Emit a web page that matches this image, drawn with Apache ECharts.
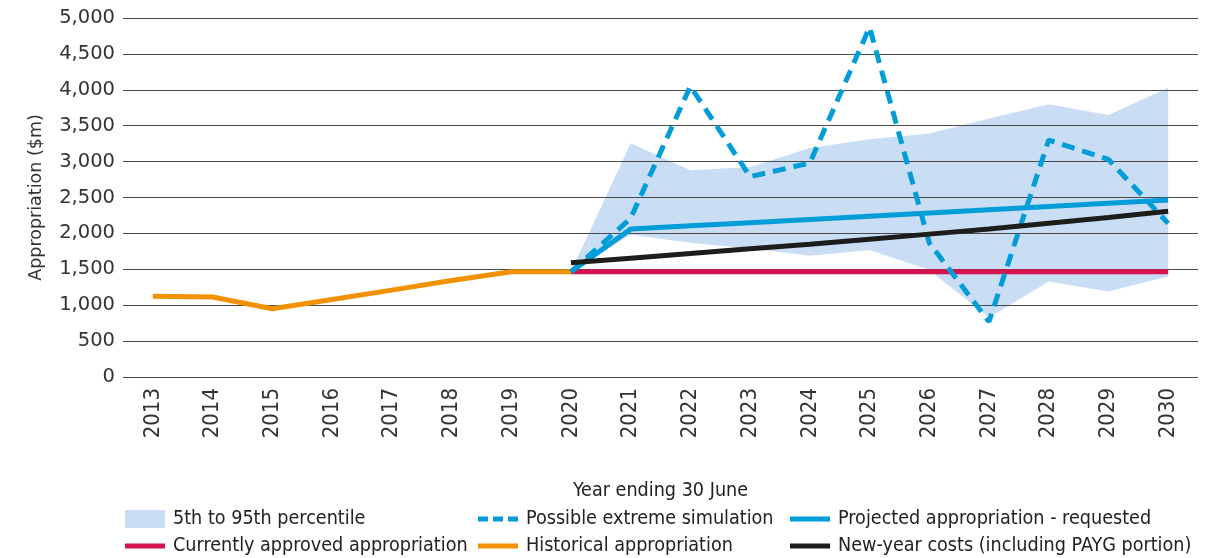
<!DOCTYPE html>
<html>
<head>
<meta charset="utf-8">
<script src="https://cdn.jsdelivr.net/npm/echarts@6/dist/echarts.min.js"></script>
<style>
html,body{margin:0;padding:0;background:#fff;}
#chart{width:1221px;height:558px;}
</style>
</head>
<body>
<div id="chart"></div>
<script>
const years = ['2013','2014','2015','2016','2017','2018','2019','2020','2021','2022','2023','2024','2025','2026','2027','2028','2029','2030'];
const historical = [1125,1115,950,1080,1210,1345,1465,1465,null,null,null,null,null,null,null,null,null,null];
const approved   = [null,null,null,null,null,null,null,1465,1465,1465,1465,1465,1465,1465,1465,1465,1465,1465];
const projected  = [null,null,null,null,null,null,null,1465,2060,2105,2150,2195,2240,2285,2330,2375,2420,2465];
const newYear    = [null,null,null,null,null,null,null,1590,1655,1720,1785,1850,1920,1990,2060,2140,2220,2310];
const extreme    = [null,null,null,null,null,null,null,1465,2210,4050,2790,2980,4870,1870,770,3300,3030,2140];
const bandLow    = [null,null,null,null,null,null,null,1465,1980,1870,1790,1690,1770,1490,830,1330,1190,1400];
const bandHigh   = [null,null,null,null,null,null,null,1465,3255,2880,2925,3190,3310,3390,3600,3800,3650,4030];

const bandDiff = bandHigh.map((v,i)=> v==null ? null : v - bandLow[i]);

const narrow = "'Liberation Sans Narrow','DejaVu Sans Condensed',sans-serif";
const chart = echarts.init(document.getElementById('chart'), null, {renderer:'canvas'});

const lineIcon = 'path://M0,0L40,0L40,5L0,5Z';
const dashIcon = 'path://M0,0h10v5h-10zM15,0h10v5h-10zM30,0h10v5h-10z';

function leg(left, top, name, icon){
  return {
    orient:'horizontal', left:left, top:top, padding:0, itemWidth:40, itemHeight:18,
    textStyle:{fontFamily:narrow, fontSize:19.6, color:'#222', padding:[0,0,0,3]},
    itemStyle:{borderWidth:0}, selectedMode:false,
    data:[{name:name, icon:icon}]
  };
}

chart.setOption({
  animation:false,
  grid:{left:123, right:23, top:18, bottom:181, containLabel:false},
  legend:[
    leg(125, 509, '5th to 95th percentile', 'rect'),
    leg(125, 536, 'Currently approved appropriation', lineIcon),
    leg(478, 509, 'Possible extreme simulation', dashIcon),
    leg(478, 536, 'Historical appropriation', lineIcon),
    leg(790, 509, 'Projected appropriation - requested', lineIcon),
    leg(790, 536, 'New-year costs (including PAYG portion)', lineIcon)
  ],
  xAxis:{
    type:'category', data:years, boundaryGap:true,
    axisLine:{show:false}, axisTick:{show:false},
    axisLabel:{rotate:90, margin:11, fontFamily:narrow, fontSize:22, color:'#333'},
    name:'Year ending 30 June', nameLocation:'middle', nameGap:104,
    nameTextStyle:{fontFamily:narrow, fontSize:19.6, color:'#222'}
  },
  yAxis:{
    type:'value', min:0, max:5000, interval:500, z:1.5,
    axisLine:{show:false}, axisTick:{show:false},
    axisLabel:{margin:8, fontFamily:'DejaVu Sans', fontSize:19.5, color:'#333',
      formatter:v=>v.toLocaleString('en-US')},
    splitLine:{lineStyle:{color:'#4a4a4a', width:1.2}},
    name:'Appropriation ($m)', nameLocation:'middle', nameGap:78,
    nameTextStyle:{fontFamily:'DejaVu Sans', fontSize:17.5, color:'#333'}
  },
  series:[
    {name:'bandLow', type:'line', data:bandLow, stack:'band', symbol:'none', z:1,
      lineStyle:{width:0, opacity:0}, silent:true},
    {name:'5th to 95th percentile', type:'line', data:bandDiff, stack:'band', symbol:'none', z:1,
      color:'#c9def5', lineStyle:{width:0, opacity:0}, areaStyle:{color:'#c9def5', opacity:1}},
    {name:'Currently approved appropriation', type:'line', data:approved, symbol:'none', z:3,
      color:'#d5134f', lineStyle:{width:5, color:'#d5134f'}},
    {name:'Historical appropriation', type:'line', data:historical, symbol:'none', z:3,
      color:'#f39200', lineStyle:{width:5, color:'#f39200'}},
    {name:'Projected appropriation - requested', type:'line', data:projected, symbol:'none', z:4,
      color:'#009dd9', lineStyle:{width:5, color:'#009dd9'}},
    {name:'Possible extreme simulation', type:'line', data:extreme, symbol:'none', z:5,
      color:'#009dd9', lineStyle:{width:5, color:'#009dd9', type:[13,8]}},
    {name:'New-year costs (including PAYG portion)', type:'line', data:newYear, symbol:'none', z:6,
      color:'#1d1d1b', lineStyle:{width:5, color:'#1d1d1b'}}
  ]
});
</script>
</body>
</html>
